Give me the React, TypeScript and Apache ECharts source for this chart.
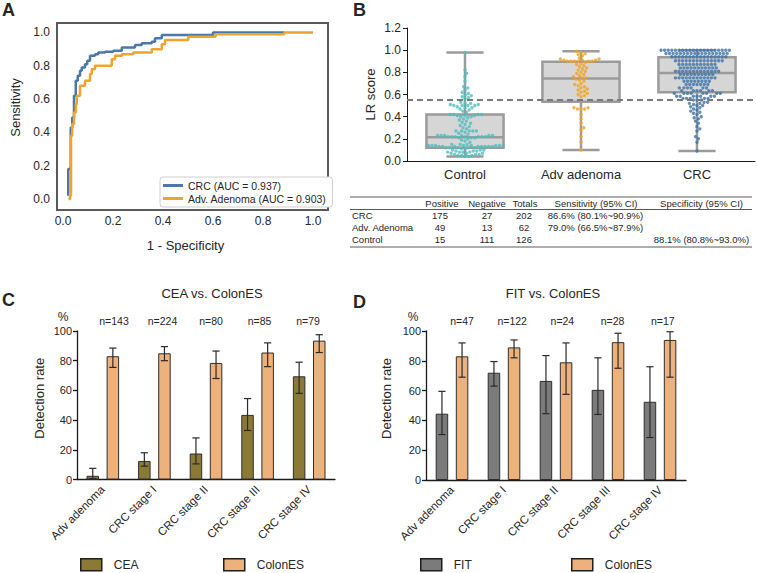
import { useEffect, useRef } from 'react';
import * as echarts from 'echarts';

const FONT = '"Liberation Sans", Arial, Helvetica, sans-serif';
const INK = '#262626';

// ---------- Panel A: ROC curves (corner points, step at each x) ----------
const rocNames = ['CRC (AUC = 0.937)', 'Adv. Adenoma (AUC = 0.903)'];
const rocCrcFpr = [0.021, 0.021, 0.031, 0.037, 0.044, 0.051, 0.059, 0.068, 0.075, 0.088, 0.097, 0.108, 0.128, 0.141, 0.168, 0.201, 0.235, 0.288, 0.315, 0.355, 0.368, 0.395, 0.6, 0.885];
const rocCrcTpr = [0.02, 0.18, 0.43, 0.49, 0.62, 0.71, 0.74, 0.77, 0.79, 0.81, 0.83, 0.86, 0.87, 0.88, 0.885, 0.89, 0.91, 0.925, 0.935, 0.945, 0.965, 0.985, 1.0, 1.0];
const rocAdvFpr = [0.022, 0.028, 0.032, 0.037, 0.044, 0.051, 0.055, 0.068, 0.088, 0.108, 0.115, 0.128, 0.195, 0.208, 0.235, 0.281, 0.355, 0.395, 0.408, 0.501, 0.61, 0.885, 1.0];
const rocAdvTpr = [0.0, 0.02, 0.38, 0.45, 0.52, 0.57, 0.62, 0.68, 0.71, 0.75, 0.78, 0.8, 0.84, 0.86, 0.87, 0.88, 0.9, 0.93, 0.955, 0.975, 0.99, 1.0, 1.0];

// ---------- Panel B: LR scores ----------
const lrGroups = ['Control', 'Adv adenoma', 'CRC'];
const controlScores = [
  0.98, 0.82, 0.79, 0.76, 0.72, 0.67, 0.66, 0.64, 0.62, 0.61, 0.6, 0.59, 0.58, 0.57, 0.56,
  0.53, 0.52, 0.52, 0.51, 0.51, 0.5, 0.5, 0.5, 0.5, 0.49, 0.48, 0.48, 0.47, 0.46, 0.45, 0.44,
  0.42, 0.42, 0.42, 0.42, 0.41, 0.41, 0.41, 0.4, 0.4, 0.39, 0.38, 0.37, 0.36, 0.35, 0.34, 0.33, 0.32, 0.31, 0.3, 0.29,
  0.27, 0.27, 0.27, 0.27, 0.27, 0.26, 0.25, 0.24,
  0.23, 0.23, 0.23, 0.23, 0.23, 0.23, 0.22, 0.22, 0.22, 0.22, 0.22, 0.22, 0.22, 0.21, 0.21, 0.21, 0.2, 0.19, 0.18, 0.17,
  0.15, 0.15, 0.15, 0.14, 0.14, 0.14, 0.14, 0.14, 0.14, 0.14, 0.14, 0.13, 0.13, 0.13, 0.13, 0.13, 0.13, 0.13, 0.13, 0.12, 0.12, 0.12, 0.12, 0.12,
  0.11, 0.11, 0.1, 0.1, 0.1, 0.09, 0.09, 0.09, 0.08, 0.08, 0.08, 0.08, 0.07, 0.07, 0.07, 0.06, 0.06, 0.06, 0.05, 0.05, 0.05, 0.04, 0.04,
];
const advAdenomaScores = [
  0.99, 0.98, 0.97, 0.96, 0.95, 0.93, 0.92, 0.92, 0.91, 0.91, 0.91, 0.9, 0.9, 0.9, 0.9, 0.9, 0.9, 0.89, 0.88, 0.87, 0.86, 0.85,
  0.84, 0.83, 0.82, 0.81, 0.8, 0.79, 0.78, 0.77, 0.76, 0.75, 0.75, 0.74, 0.73, 0.72, 0.7, 0.69, 0.68, 0.67, 0.66, 0.65,
  0.64, 0.63, 0.62, 0.61, 0.6, 0.59, 0.58,
  0.48, 0.48, 0.47, 0.47, 0.47, 0.42, 0.38, 0.34, 0.3, 0.28, 0.22, 0.17, 0.1,
];
const crcScores = [
  1, 1, 1, 1, 1, 1, 1, 1, 1, 1, 1, 1, 1, 1, 1, 1, 1, 1, 1, 1,
  0.97, 0.97, 0.97, 0.97, 0.97, 0.97, 0.97, 0.97, 0.97, 0.97, 0.97, 0.97, 0.97, 0.97, 0.97, 0.97, 0.97, 0.97,
  0.94, 0.94, 0.94, 0.94, 0.94, 0.94, 0.94, 0.94, 0.94, 0.94, 0.94, 0.94, 0.94, 0.94, 0.94, 0.94,
  0.905, 0.905, 0.905, 0.905, 0.905, 0.905, 0.905, 0.905, 0.905, 0.905, 0.905, 0.905, 0.905, 0.905,
  0.87, 0.87, 0.87, 0.87, 0.87, 0.87, 0.87, 0.87, 0.87, 0.87, 0.87,
  0.84, 0.84, 0.84, 0.84, 0.84, 0.84, 0.84, 0.84, 0.84, 0.84, 0.84,
  0.81, 0.81, 0.81, 0.81, 0.81, 0.81, 0.81, 0.81, 0.81, 0.81, 0.81, 0.81, 0.81,
  0.78, 0.78, 0.78, 0.78, 0.78, 0.78, 0.78, 0.78, 0.78, 0.78,
  0.75, 0.75, 0.75, 0.75, 0.75, 0.75, 0.75, 0.75, 0.75, 0.75, 0.75, 0.75,
  0.72, 0.72, 0.72, 0.72, 0.72, 0.72, 0.72, 0.72,
  0.69, 0.69, 0.69, 0.69, 0.69, 0.69, 0.69,
  0.66, 0.66, 0.66, 0.66, 0.66, 0.66,
  0.635, 0.635, 0.635, 0.635, 0.635, 0.635,
  0.61, 0.61, 0.61, 0.61, 0.61, 0.61, 0.61, 0.61,
  0.585, 0.585, 0.585, 0.585, 0.585, 0.585, 0.585,
  0.565, 0.565, 0.565, 0.565, 0.565, 0.55, 0.55, 0.55,
  0.53, 0.53, 0.52, 0.52, 0.51, 0.5, 0.5, 0.49, 0.48, 0.47, 0.46, 0.45, 0.44, 0.43, 0.42, 0.4, 0.39, 0.38, 0.36, 0.34, 0.31, 0.29, 0.27, 0.22, 0.2, 0.17, 0.09,
];
const boxMin = [0.04, 0.1, 0.09];
const boxQ1 = [0.12, 0.535, 0.62];
const boxMedian = [0.215, 0.745, 0.795];
const boxQ3 = [0.42, 0.895, 0.935];
const boxMax = [0.98, 0.99, 1.0];
const lrCutoff = 0.545;

// ---------- Panel B table ----------
const tableHeader = ['Positive', 'Negative', 'Totals', 'Sensitivity (95% CI)', 'Specificity (95% CI)'];
const tableGroups = ['CRC', 'Adv. Adenoma', 'Control'];
const tablePositive = ['175', '49', '15'];
const tableNegative = ['27', '13', '111'];
const tableTotals = ['202', '62', '126'];
const tableSensitivity = ['86.6% (80.1%~90.9%)', '79.0% (66.5%~87.9%)', ''];
const tableSpecificity = ['', '', '88.1% (80.8%~93.0%)'];

// ---------- Panels C & D ----------
const stages = ['Adv adenoma', 'CRC stage I', 'CRC stage II', 'CRC stage III', 'CRC stage IV'];
const nCea = [143, 224, 80, 85, 79];
const ceaRate = [2.5, 12.5, 17.5, 43.5, 69.5];
const ceaLow = [0.5, 9, 10.5, 33, 58];
const ceaHigh = [7.5, 18, 28, 54.5, 79];
const colonesRateC = [83, 85, 78.5, 85.5, 93.5];
const colonesLowC = [75.5, 80, 68, 76, 85.5];
const colonesHighC = [88.5, 89.5, 86.5, 92, 97.5];
const nFit = [47, 122, 24, 28, 17];
const fitRate = [44.5, 72, 66.5, 60.5, 52.5];
const fitLow = [30.5, 63, 44.5, 44, 28.5];
const fitHigh = [59.5, 79.5, 83.5, 82, 76];
const colonesRateD = [83, 89, 79, 92.5, 94];
const colonesLowD = [69, 82, 57.5, 75, 69];
const colonesHighD = [92, 94, 92, 98.5, 99.5];

const C_BLUE = '#4A78A8';
const C_ORANGE = '#F0A32F';
const C_TEAL = '#4DBDBE';
const C_ADV = '#F5A020';
const C_CRC = '#3D72A8';
const C_CEA = '#8A7A35';
const C_COLONES = '#EDB27C';
const C_FIT = '#7B7B7B';

const B_HEIGHT = 133;
const B_MAX = 1.2;
const BAR_W = 12.5;
const BAR_GAP_PX = 7.6;
const DOT = 3.4;
const DOT_SPACING = 3.6;

// beeswarm layout (pixel offsets)
function swarmOffsets(values: number[], pxPerUnit: number, d: number): number[] {
  const order = values.map((_, i) => i).sort((a, b) => values[a] - values[b]);
  const placed: { x: number; y: number }[] = [];
  const out: number[] = new Array(values.length).fill(0);
  for (const i of order) {
    const y = values[i] * pxPerUnit;
    const near = placed.filter((p) => Math.abs(p.y - y) < d);
    const cands = [0];
    for (const p of near) {
      const dx = Math.sqrt(Math.max(0, d * d - (p.y - y) * (p.y - y)));
      cands.push(p.x + dx, p.x - dx);
    }
    cands.sort((a, b) => Math.abs(a) - Math.abs(b));
    let x = 0;
    for (const c of cands) {
      if (near.every((p) => (p.x - c) ** 2 + (p.y - y) ** 2 >= d * d - 1e-6)) {
        x = c;
        break;
      }
    }
    placed.push({ x, y });
    out[i] = x;
  }
  return out;
}

function swarmData(vals: number[], cat: number) {
  const offs = swarmOffsets(vals, B_HEIGHT / B_MAX, DOT_SPACING);
  return vals.map((v, i) => ({ value: [cat, v], symbolOffset: [offs[i], 0] }));
}

const fmtTenth = (v: number) => (Math.abs(v * 5 - Math.round(v * 5)) < 1e-6 ? v.toFixed(1) : '');

function errorBars(name: string, lows: number[], highs: number[], offset: number, axis: number) {
  return {
    type: 'custom',
    name,
    xAxisIndex: axis,
    yAxisIndex: axis,
    z: 5,
    encode: { x: 0, y: [1, 2] },
    data: lows.map((l, i) => [i, l, highs[i]]),
    renderItem: (_p: any, api: any) => {
      const i = api.value(0);
      const lo = api.coord([i, api.value(1)]);
      const hi = api.coord([i, api.value(2)]);
      const x = lo[0] + offset;
      const cap = 3.6;
      const st = { stroke: '#2a2a2a', lineWidth: 1.2 };
      return {
        type: 'group',
        children: [
          { type: 'line', shape: { x1: x, y1: lo[1], x2: x, y2: hi[1] }, style: st },
          { type: 'line', shape: { x1: x - cap, y1: hi[1], x2: x + cap, y2: hi[1] }, style: st },
          { type: 'line', shape: { x1: x - cap, y1: lo[1], x2: x + cap, y2: lo[1] }, style: st },
        ],
      };
    },
  };
}

function barSeries(name: string, data: number[], color: string, axis: number) {
  return {
    type: 'bar',
    name,
    xAxisIndex: axis,
    yAxisIndex: axis,
    data,
    barWidth: BAR_W,
    barGap: `${Math.round((BAR_GAP_PX / BAR_W) * 100)}%`,
    itemStyle: { color, borderColor: '#2e2e2e', borderWidth: 1 },
  };
}

function txt(text: string, x: number, y: number, size: number, align = 'left', weight = 'normal', vAlign = 'middle') {
  return {
    type: 'text',
    style: {
      text,
      x,
      y,
      fill: INK,
      font: `${weight} ${size}px ${FONT}`,
      textAlign: align,
      textVerticalAlign: vAlign,
    },
  };
}

function hline(x1: number, x2: number, y: number) {
  return { type: 'line', shape: { x1, y1: y, x2, y2: y }, style: { stroke: '#5a5a5a', lineWidth: 1 } };
}

function barCatAxis(grid: number) {
  return {
    gridIndex: grid,
    type: 'category',
    data: stages,
    axisLine: { lineStyle: { color: '#1a1a1a', width: 1.3 } },
    axisTick: { alignWithLabel: true, length: 5, lineStyle: { color: '#1a1a1a', width: 1.3 } },
    axisLabel: { rotate: 45, fontSize: 11.5, color: INK, margin: 8, interval: 0 },
  };
}

function rateAxis(grid: number, gap: number) {
  return {
    gridIndex: grid,
    type: 'value',
    min: 0,
    max: 100,
    interval: 20,
    name: 'Detection rate',
    nameLocation: 'middle',
    nameGap: gap,
    nameTextStyle: { fontSize: 13, color: INK, padding: [0, 0, 0, 14] },
    axisLine: { show: true, lineStyle: { color: '#1a1a1a', width: 1.3 } },
    axisTick: { show: true, length: 4, lineStyle: { color: '#1a1a1a', width: 1.3 } },
    splitLine: { show: false },
    axisLabel: { fontSize: 11, color: INK, margin: 5 },
  };
}

function barLegend(name: string, left: number) {
  return {
    data: [name],
    left,
    top: 558,
    padding: 0,
    icon: 'rect',
    itemWidth: 21,
    itemHeight: 12,
    itemStyle: { borderColor: '#1e1e1e', borderWidth: 1.5 },
    textStyle: { fontSize: 12, color: INK, padding: [0, 0, 0, 7] },
    selectedMode: false,
  };
}

export default function App() {
  const ref = useRef<HTMLDivElement>(null);

  useEffect(() => {
    if (!ref.current) return;
    const chart = echarts.init(ref.current, undefined, { renderer: 'svg' });

    const graphics: any[] = [
      txt('A', 2, 1, 18, 'left', 'bold', 'top'),
      txt('B', 353, 1, 18, 'left', 'bold', 'top'),
      txt('C', 2, 291, 18, 'left', 'bold', 'top'),
      txt('D', 353, 293, 18, 'left', 'bold', 'top'),
      txt('CEA vs. ColonES', 212, 293, 13, 'center'),
      txt('FIT vs. ColonES', 553, 293, 13, 'center'),
      txt('%', 63, 317, 12, 'center'),
      txt('%', 413, 317, 12, 'center'),
      ...nCea.map((n, i) => txt(`n=${n}`, 114 + i * 48.5, 321, 10.5, 'center')),
      ...nFit.map((n, i) => txt(`n=${n}`, 462 + i * 50.2, 321, 10.5, 'center')),
      // table
      hline(350, 752, 197),
      hline(350, 752, 209.5),
      hline(350, 752, 247),
    ];
    const colX = [442, 487, 525, 596, 701.5];
    tableHeader.forEach((h, j) => graphics.push(txt(h, colX[j], 203.5, 9.5, 'center')));
    const rowY = [215.5, 227.5, 239.5];
    tableGroups.forEach((g, r) => {
      const y = rowY[r];
      graphics.push(txt(g, 352, y, 9.5, 'left'));
      graphics.push(txt(tablePositive[r], 440, y, 9.5, 'center'));
      graphics.push(txt(tableNegative[r], 487, y, 9.5, 'center'));
      graphics.push(txt(tableTotals[r], 524, y, 9.5, 'center'));
      if (tableSensitivity[r]) graphics.push(txt(tableSensitivity[r], 595.5, y, 9.5, 'center'));
      if (tableSpecificity[r]) graphics.push(txt(tableSpecificity[r], 701.5, y, 9.5, 'center'));
    });

    const barOffset = (BAR_W + BAR_GAP_PX) / 2;

    const option: any = {
      animation: false,
      backgroundColor: '#ffffff',
      textStyle: { fontFamily: FONT },
      grid: [
        { left: 57, top: 23, width: 271, height: 187, show: true, borderColor: '#5a5a5a', borderWidth: 2 },
        { left: 407, top: 28, width: 348, height: B_HEIGHT },
        { left: 77, top: 331, width: 258, height: 148.5 },
        { left: 426, top: 331, width: 260, height: 149 },
      ],
      xAxis: [
        {
          gridIndex: 0,
          type: 'value',
          min: -0.024,
          max: 1.06,
          name: '1 - Specificity',
          nameLocation: 'middle',
          nameGap: 29,
          nameTextStyle: { fontSize: 13, color: INK, padding: [0, 14, 0, 0] },
          axisLine: { show: false },
          axisTick: { show: false },
          splitLine: { show: false },
          axisLabel: { fontSize: 12, color: INK, margin: 5, formatter: fmtTenth },
        },
        {
          gridIndex: 1,
          type: 'category',
          data: lrGroups,
          axisLine: { lineStyle: { color: '#1a1a1a', width: 1 } },
          axisTick: { alignWithLabel: true, length: 4, lineStyle: { color: '#1a1a1a' } },
          axisLabel: { fontSize: 13, color: INK, margin: 7 },
        },
        barCatAxis(2),
        barCatAxis(3),
      ],
      yAxis: [
        {
          gridIndex: 0,
          type: 'value',
          min: -0.066,
          max: 1.057,
          name: 'Sensitivity',
          nameLocation: 'middle',
          nameGap: 35,
          nameTextStyle: { fontSize: 13, color: INK, padding: [0, 0, 0, 18] },
          axisLine: { show: false },
          axisTick: { show: false },
          splitLine: { show: false },
          axisLabel: { fontSize: 12, color: INK, margin: 7, formatter: fmtTenth },
        },
        {
          gridIndex: 1,
          type: 'value',
          min: 0,
          max: B_MAX,
          interval: 0.2,
          name: 'LR score',
          nameLocation: 'middle',
          nameGap: 30,
          nameTextStyle: { fontSize: 13, color: INK },
          axisLine: { show: true, lineStyle: { color: '#1a1a1a' } },
          axisTick: { show: true, length: 4, lineStyle: { color: '#1a1a1a' } },
          splitLine: { show: false },
          axisLabel: { fontSize: 12, color: INK, margin: 6, formatter: (v: number) => v.toFixed(1) },
        },
        rateAxis(2, 31),
        rateAxis(3, 33),
      ],
      legend: [
        {
          data: rocNames,
          left: 160,
          top: 177,
          orient: 'vertical',
          icon: 'rect',
          itemWidth: 20,
          itemHeight: 3,
          itemGap: 2,
          borderColor: '#cfcfcf',
          borderWidth: 1,
          borderRadius: 3,
          backgroundColor: '#ffffff',
          padding: [3, 6, 3, 3],
          textStyle: { fontSize: 10.5, color: INK },
          selectedMode: false,
        },
        barLegend('CEA', 80),
        barLegend('ColonES', 223),
        barLegend('FIT', 420),
        barLegend('ColonES', 571),
      ],
      graphic: graphics,
      series: [
        {
          type: 'line',
          name: rocNames[0],
          xAxisIndex: 0,
          yAxisIndex: 0,
          step: 'end',
          symbol: 'none',
          data: rocCrcFpr.map((x, i) => [x, rocCrcTpr[i]]),
          lineStyle: { color: C_BLUE, width: 2.5 },
          itemStyle: { color: C_BLUE },
        },
        {
          type: 'line',
          name: rocNames[1],
          xAxisIndex: 0,
          yAxisIndex: 0,
          step: 'end',
          symbol: 'none',
          data: rocAdvFpr.map((x, i) => [x, rocAdvTpr[i]]),
          lineStyle: { color: C_ORANGE, width: 2.5 },
          itemStyle: { color: C_ORANGE },
        },
        {
          type: 'custom',
          name: 'LR box',
          xAxisIndex: 1,
          yAxisIndex: 1,
          encode: { x: 0, y: [1, 2, 3, 4, 5] },
          data: lrGroups.map((_, i) => [i, boxMin[i], boxQ1[i], boxMedian[i], boxQ3[i], boxMax[i]]),
          renderItem: (_p: any, api: any) => {
            const c = api.value(0);
            const pMin = api.coord([c, api.value(1)]);
            const pQ1 = api.coord([c, api.value(2)]);
            const pMed = api.coord([c, api.value(3)]);
            const pQ3 = api.coord([c, api.value(4)]);
            const pMax = api.coord([c, api.value(5)]);
            const band = api.size([1, 0])[0];
            const bw = band * 0.665;
            const cw = band * 0.32;
            const cx = pMin[0];
            const st = { stroke: '#9b9b9b', lineWidth: 2.5 };
            return {
              type: 'group',
              children: [
                { type: 'line', shape: { x1: cx, y1: pMin[1], x2: cx, y2: pQ1[1] }, style: st },
                { type: 'line', shape: { x1: cx, y1: pQ3[1], x2: cx, y2: pMax[1] }, style: st },
                { type: 'line', shape: { x1: cx - cw / 2, y1: pMin[1], x2: cx + cw / 2, y2: pMin[1] }, style: st },
                { type: 'line', shape: { x1: cx - cw / 2, y1: pMax[1], x2: cx + cw / 2, y2: pMax[1] }, style: st },
                { type: 'rect', shape: { x: cx - bw / 2, y: pQ3[1], width: bw, height: pQ1[1] - pQ3[1] }, style: { ...st, fill: '#d6d6d6' } },
                { type: 'line', shape: { x1: cx - bw / 2, y1: pMed[1], x2: cx + bw / 2, y2: pMed[1] }, style: st },
              ],
            };
          },
        },
        {
          type: 'scatter',
          name: 'Control',
          xAxisIndex: 1,
          yAxisIndex: 1,
          symbolSize: DOT,
          itemStyle: { color: C_TEAL },
          data: swarmData(controlScores, 0),
          z: 3,
        },
        {
          type: 'scatter',
          name: 'Adv adenoma',
          xAxisIndex: 1,
          yAxisIndex: 1,
          symbolSize: DOT,
          itemStyle: { color: C_ADV },
          data: swarmData(advAdenomaScores, 1),
          z: 3,
        },
        {
          type: 'scatter',
          name: 'CRC',
          xAxisIndex: 1,
          yAxisIndex: 1,
          symbolSize: DOT,
          itemStyle: { color: C_CRC },
          data: swarmData(crcScores, 2),
          z: 3,
          markLine: {
            silent: true,
            symbol: ['none', 'none'],
            label: { show: false },
            lineStyle: { color: '#7a7a7a', width: 2, type: [6, 4] },
            data: [{ yAxis: lrCutoff }],
          },
        },
        barSeries('CEA', ceaRate, C_CEA, 2),
        barSeries('ColonES', colonesRateC, C_COLONES, 2),
        errorBars('CEA 95% CI', ceaLow, ceaHigh, -barOffset, 2),
        errorBars('ColonES 95% CI (C)', colonesLowC, colonesHighC, barOffset, 2),
        barSeries('FIT', fitRate, C_FIT, 3),
        barSeries('ColonES', colonesRateD, C_COLONES, 3),
        errorBars('FIT 95% CI', fitLow, fitHigh, -barOffset, 3),
        errorBars('ColonES 95% CI (D)', colonesLowD, colonesHighD, barOffset, 3),
      ],
    };

    chart.setOption(option);
    return () => chart.dispose();
  }, []);

  return (
    <div
      ref={ref}
      style={{ position: 'fixed', left: 0, top: 0, width: 757, height: 573, background: '#fff' }}
    />
  );
}
